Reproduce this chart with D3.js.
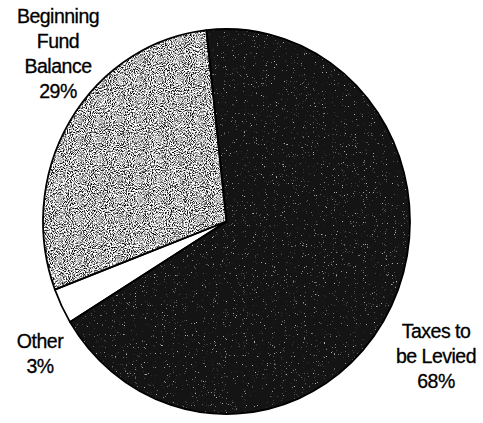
<!DOCTYPE html>
<html>
<head>
<meta charset="utf-8">
<script src="https://cdn.jsdelivr.net/npm/d3@7"></script>
<style>
  body { margin: 0; background: #fff; }
  svg { display: block; }
</style>
</head>
<body>
<svg id="chart"></svg>
<script>
const width = 483;
const height = 423;

// slices in drawing order, clockwise from the top
const labels = [["Taxes to", "be Levied", "68%"], ["Other", "3%"], ["Beginning", "Fund", "Balance", "29%"]];
const values = [68, 3, 29];
const fills = ["#141414", "#ffffff", "#a8a8a8"];
const grains = ["speckDark", null, "speckGray"];
const labelPos = [[436, 338], [40, 348], [58, 23]]; // first baseline of each label

const cx = 226.5, cy = 221.5;
const rx = 183.5, ry = 192.5; // the pie is a little taller than wide
const startAngle = -6.3 * Math.PI / 180;

const svg = d3.select("#chart")
    .attr("width", width)
    .attr("height", height);

const pie = d3.pie()
    .sort(null)
    .value(d => d)
    .startAngle(startAngle)
    .endAngle(startAngle + 2 * Math.PI);

const arc = d3.arc()
    .innerRadius(0)
    .outerRadius(ry);

const arcs = pie(values);
const pieTransform = `translate(${cx},${cy}) scale(${rx / ry},1)`;

// stipple textures like the scanned original
const defs = svg.append("defs");

const dark = defs.append("filter").attr("id", "speckDark")
    .attr("filterUnits", "userSpaceOnUse")
    .attr("x", 0).attr("y", 0).attr("width", width).attr("height", height)
    .attr("color-interpolation-filters", "sRGB");
dark.append("feTurbulence")
    .attr("type", "fractalNoise").attr("baseFrequency", 0.9)
    .attr("numOctaves", 2).attr("seed", 4).attr("result", "n");
dark.append("feColorMatrix").attr("in", "n").attr("type", "matrix")
    .attr("values", "0 0 0 0 0.7  0 0 0 0 0.7  0 0 0 0 0.7  8 0 0 0 -5.5");

const gray = defs.append("filter").attr("id", "speckGray")
    .attr("filterUnits", "userSpaceOnUse")
    .attr("x", 0).attr("y", 0).attr("width", width).attr("height", height)
    .attr("color-interpolation-filters", "sRGB");
gray.append("feTurbulence")
    .attr("type", "fractalNoise").attr("baseFrequency", 0.95)
    .attr("numOctaves", 2).attr("seed", 9).attr("result", "n");
gray.append("feColorMatrix").attr("in", "n").attr("type", "matrix")
    .attr("values", "3.4 0 0 0 -0.98  3.4 0 0 0 -0.98  3.4 0 0 0 -0.98  0 0 0 0 1");

arcs.forEach((d, i) => {
    defs.append("clipPath").attr("id", "clip" + i)
        .append("path")
        .attr("transform", pieTransform)
        .attr("d", arc(d));
});

let g = svg.append("g")
    .attr("transform", pieTransform);

g.selectAll("path.slice")
    .data(arcs)
    .enter()
    .append("path")
    .attr("class", "slice")
    .attr("d", arc)
    .attr("fill", (d, i) => fills[i]);

// noise layers, clipped to their slice
svg.selectAll("rect.grain")
    .data(arcs.filter((d, i) => grains[i]))
    .enter()
    .append("rect")
    .attr("class", "grain")
    .attr("width", width)
    .attr("height", height)
    .attr("clip-path", d => `url(#clip${d.index})`)
    .attr("filter", d => `url(#${grains[d.index]})`);

svg.append("g")
    .attr("transform", pieTransform)
    .selectAll("path.edge")
    .data(arcs)
    .enter()
    .append("path")
    .attr("class", "edge")
    .attr("d", arc)
    .attr("fill", "none")
    .attr("stroke", "#000")
    .attr("stroke-width", 1.8)
    .attr("stroke-linejoin", "round")
    .attr("vector-effect", "non-scaling-stroke");

const texts = svg.selectAll("text.lbl")
    .data(labels)
    .enter()
    .append("text")
    .attr("class", "lbl")
    .attr("text-anchor", "middle")
    .style("font-family", "Arial, 'Liberation Sans', sans-serif")
    .style("font-size", "19.5px")
    .style("letter-spacing", "-0.5px")
    .attr("fill", "#000")
    .attr("stroke", "#000")
    .attr("stroke-width", 0.3);

texts.each(function(lines, i) {
    d3.select(this).selectAll("tspan")
        .data(lines)
        .enter()
        .append("tspan")
        .attr("x", labelPos[i][0])
        .attr("y", (l, j) => labelPos[i][1] + j * 25)
        .text(l => l);
});
</script>
</body>
</html>
